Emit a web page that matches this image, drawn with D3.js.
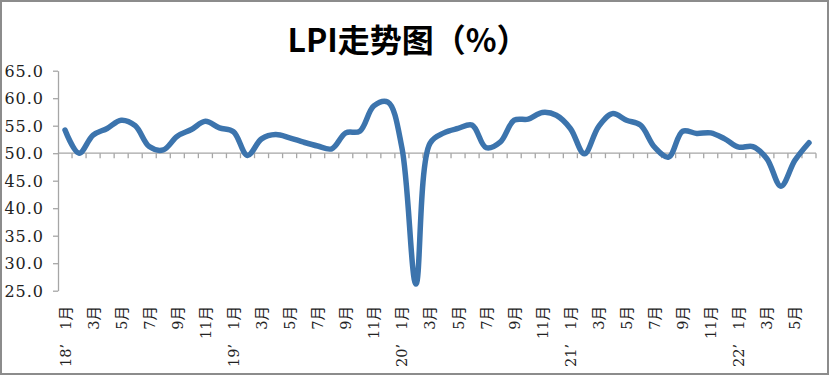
<!DOCTYPE html>
<html>
<head>
<meta charset="utf-8">
<script src="https://cdn.jsdelivr.net/npm/d3@7"></script>
<style>
  html, body { margin: 0; padding: 0; background: #fff; }
  svg { display: block; }
</style>
</head>
<body>
<svg id="chart"></svg>
<script>
const categories = [
  "2018-01","2018-02","2018-03","2018-04","2018-05","2018-06","2018-07","2018-08","2018-09","2018-10","2018-11","2018-12",
  "2019-01","2019-02","2019-03","2019-04","2019-05","2019-06","2019-07","2019-08","2019-09","2019-10","2019-11","2019-12",
  "2020-01","2020-02","2020-03","2020-04","2020-05","2020-06","2020-07","2020-08","2020-09","2020-10","2020-11","2020-12",
  "2021-01","2021-02","2021-03","2021-04","2021-05","2021-06","2021-07","2021-08","2021-09","2021-10","2021-11","2021-12",
  "2022-01","2022-02","2022-03","2022-04","2022-05","2022-06"
];

const lpi = [
  54.2, 50.0, 53.3, 54.5, 56.0, 55.0, 51.2, 50.6, 53.1, 54.3, 55.8, 54.6,
  53.9, 49.6, 52.6, 53.4, 52.8, 52.0, 51.3, 50.8, 53.7, 54.0, 58.6, 59.3,
  51.0, 26.2, 51.8, 53.7, 54.5, 55.1, 51.0, 52.0, 56.0, 56.2, 57.4, 56.9,
  54.5, 49.9, 54.8, 57.2, 56.0, 55.1, 51.1, 49.3, 54.0, 53.6, 53.7, 52.6,
  51.1, 51.2, 49.0, 44.0, 48.7, 51.9
];

const yTicks = [25, 30, 35, 40, 45, 50, 55, 60, 65];

const title = "LPI走势图（%）";

const width = 831;
const height = 376;
const margin = {top : 70.7, left : 58, bottom : 85.3, right : 15};

const svg = d3.select("#chart")
    .attr("width", width)
    .attr("height", height);

// outer frame
svg.append("rect")
    .attr("x", 1).attr("y", 1)
    .attr("width", 827).attr("height", 373)
    .attr("fill", "#fff")
    .attr("stroke", "#8c8c8c")
    .attr("stroke-width", 2);

const x = d3.scaleBand()
    .domain(categories)
    .range([margin.left, width - margin.right])
    .padding(0);

const y = d3.scaleLinear()
    .domain([25, 65])
    .range([height - margin.bottom, margin.top]);

const axisColor = "#a6a6a6";

// y axis
const yAxis = g => g
    .attr("transform", `translate(${margin.left},0)`)
    .call(d3.axisLeft(y).tickValues(yTicks).tickSize(5).tickSizeOuter(0).tickFormat(d => d.toFixed(1)))
    .call(g => g.selectAll("line, path").attr("stroke", axisColor).attr("stroke-width", 1.3))
    .call(g => g.selectAll("text")
        .attr("x", -14)
        .attr("dy", "0.36em")
        .attr("fill", "#222")
        .attr("font-family", "'DejaVu Serif', serif")
        .attr("font-size", 16)
        .attr("letter-spacing", 1));

svg.append("g").call(yAxis);

// x axis at 50, ticks between categories
const xAxisG = svg.append("g")
    .attr("transform", `translate(0,${y(50)})`);

xAxisG.append("line")
    .attr("x1", margin.left).attr("x2", width - margin.right)
    .attr("stroke", axisColor).attr("stroke-width", 1.3);

xAxisG.selectAll(".tk")
    .data(categories)
    .join("line")
    .attr("class", "tk")
    .attr("x1", d => x(d) + x.step())
    .attr("x2", d => x(d) + x.step())
    .attr("y1", 0).attr("y2", 5)
    .attr("stroke", axisColor).attr("stroke-width", 1.3);

// month labels (odd months)
const monthOf = c => +c.slice(5);
const labelFont = "'DejaVu Serif', 'Noto Sans CJK SC', serif";

svg.append("g")
    .selectAll("text")
    .data(categories.filter(c => monthOf(c) % 2 === 1))
    .join("text")
    .attr("transform", d => `translate(${x(d) + x.step() / 2 + 5.5},306) rotate(-90)`)
    .attr("text-anchor", "end")
    .attr("font-family", labelFont)
    .attr("font-size", 14.5)
    .attr("fill", "#222")
    .text(d => monthOf(d) + "月");

// year labels
svg.append("g")
    .selectAll("text")
    .data(categories.filter(c => monthOf(c) === 1))
    .join("text")
    .attr("transform", d => `translate(${x(d) + x.step() / 2 + 5.5},344) rotate(-90)`)
    .attr("text-anchor", "end")
    .attr("font-family", labelFont)
    .attr("font-size", 14.5)
    .attr("fill", "#222")
    .text(d => d.slice(2, 4) + "’");

// line
const line = d3.line()
    .x((d, i) => x(categories[i]) + x.bandwidth() / 2)
    .y(d => y(d))
    .curve(d3.curveCatmullRom.alpha(0.5));

svg.append("path")
    .datum(lpi)
    .attr("d", line)
    .attr("fill", "none")
    .attr("stroke", "#3c74ad")
    .attr("stroke-width", 5.5)
    .attr("stroke-linecap", "round")
    .attr("stroke-linejoin", "round");

// title
svg.append("text")
    .attr("x", 408)
    .attr("y", 52)
    .attr("text-anchor", "middle")
    .attr("font-family", "'Noto Sans CJK SC', sans-serif")
    .attr("font-weight", "bold")
    .attr("font-size", 32)
    .attr("fill", "#000")
    .text(title);
</script>
</body>
</html>
